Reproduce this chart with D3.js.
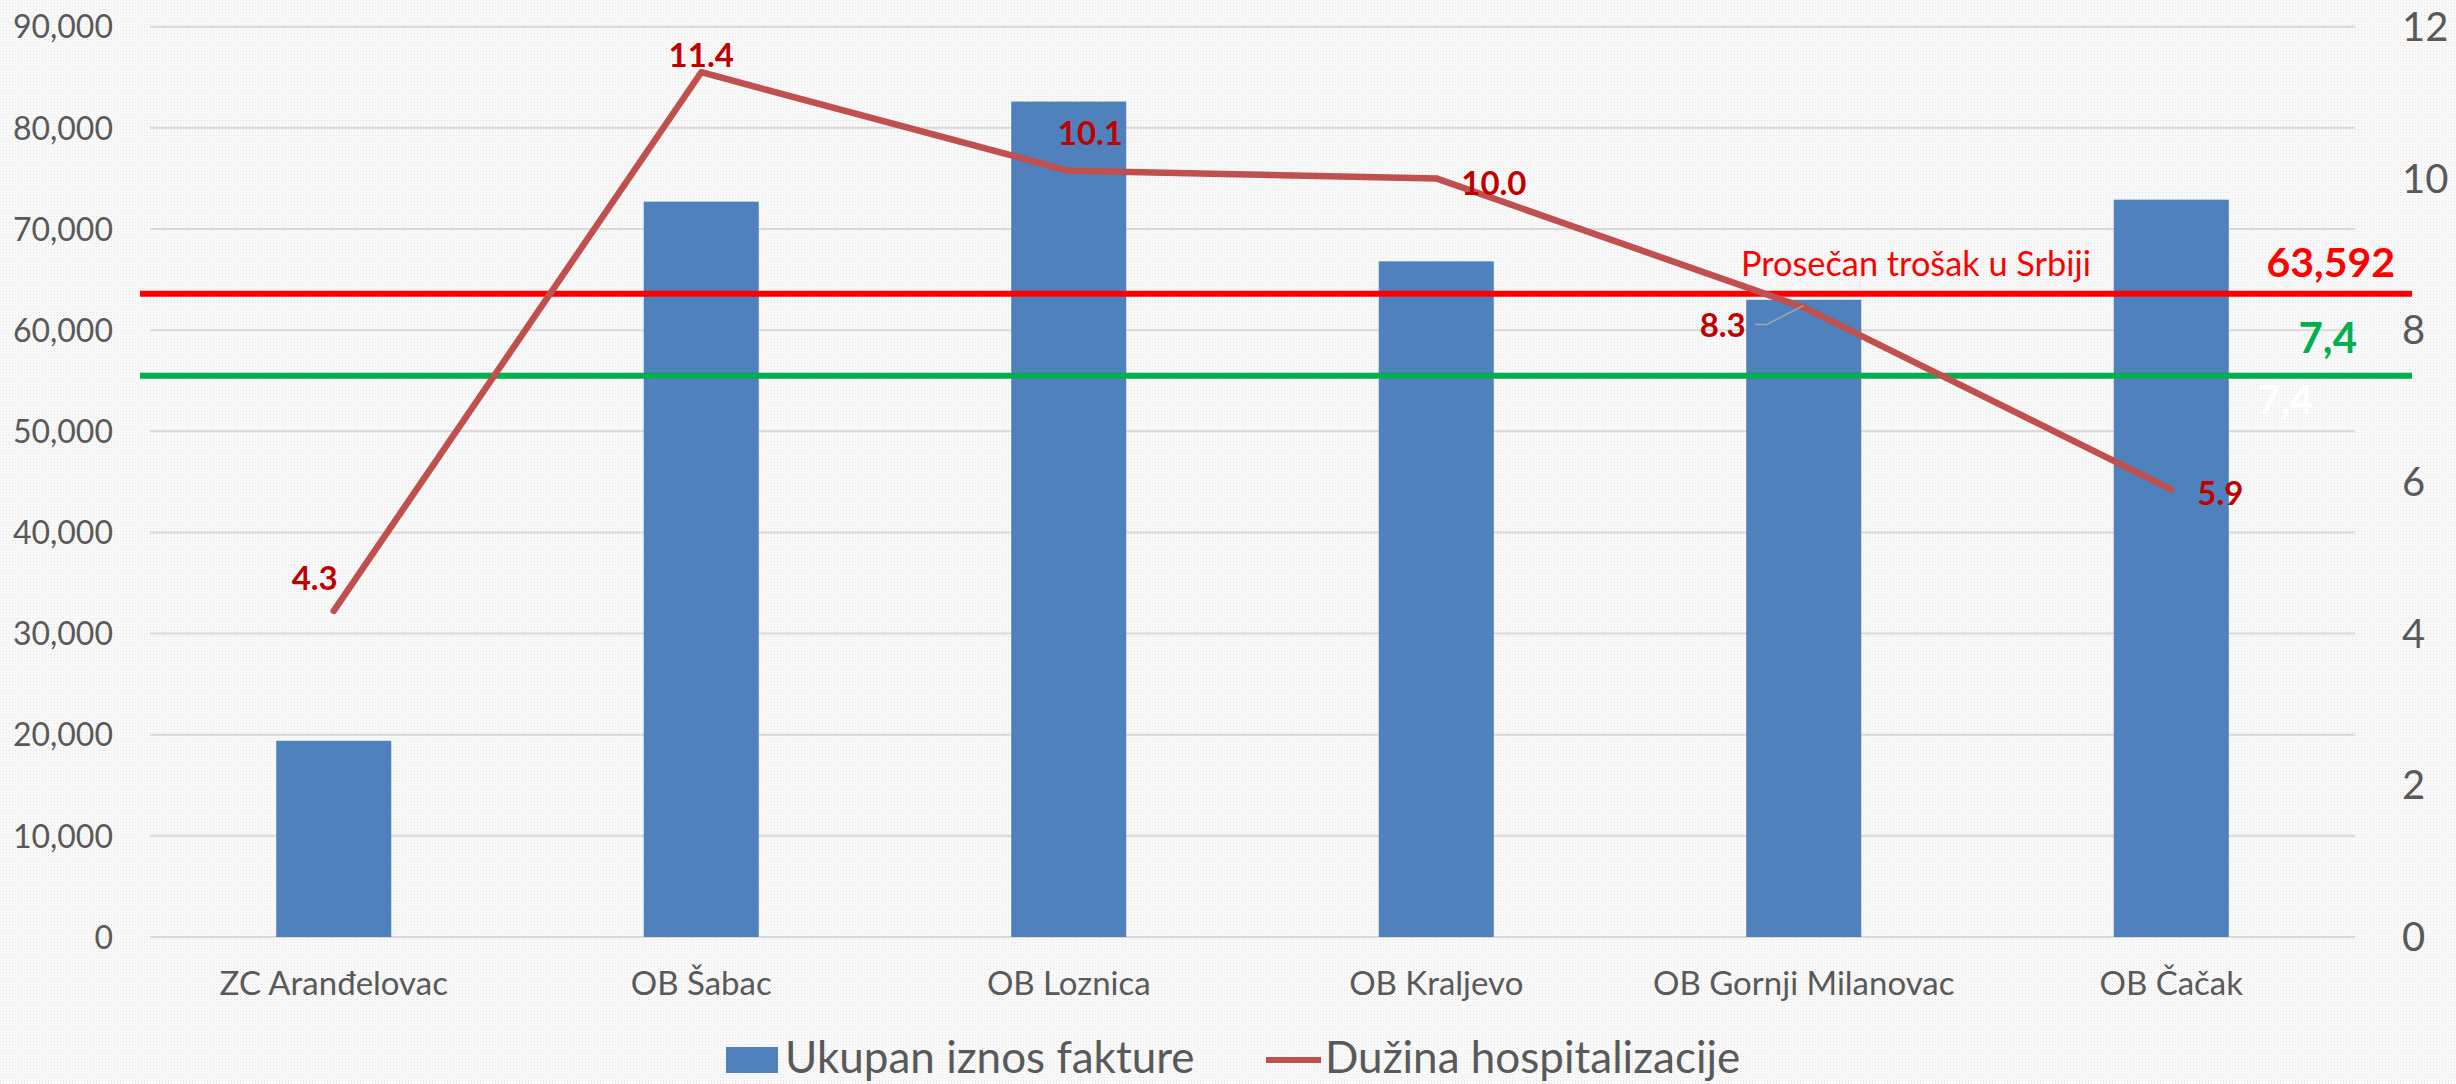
<!DOCTYPE html>
<html>
<head>
<meta charset="utf-8">
<script src="https://cdn.jsdelivr.net/npm/d3@7"></script>
<style>
  body { margin: 0; background: #fff; }
  text { font-family: Lato, "Open Sans", sans-serif; }
</style>
</head>
<body>
<div id="chart"></div>
<script>
// data
let categories = ['ZC Aranđelovac', 'OB Šabac', 'OB Loznica', 'OB Kraljevo', 'OB Gornji Milanovac', 'OB Čačak'];
let invoiceTotals = [19400, 72700, 82600, 66800, 63000, 72900];
let stayLength = [4.3, 11.4, 10.1, 10.0, 8.3, 5.9];
let leftTicks = [0, 10000, 20000, 30000, 40000, 50000, 60000, 70000, 80000, 90000];
let rightTicks = [0, 2, 4, 6, 8, 10, 12];
let avgCostSerbia = 63592;
let avgStaySerbia = 7.4;
let seriesNames = ['Ukupan iznos fakture', 'Dužina hospitalizacije'];

let width = 2456;
let height = 1084;
let plotLeft = 150, plotRight = 2355, plotTop = 26.7, plotBottom = 937;

let svg = d3.select('#chart')
  .append('svg')
  .attr('width', width)
  .attr('height', height);

// dotted background like the original
let defs = svg.append('defs');
let pat = defs.append('pattern')
  .attr('id', 'dots')
  .attr('width', 3)
  .attr('height', 3)
  .attr('patternUnits', 'userSpaceOnUse');
pat.append('rect').attr('width', 3).attr('height', 3).attr('fill', '#fbfbfb');
pat.append('rect').attr('width', 1).attr('height', 1).attr('fill', '#e2e2e2');
pat.append('rect').attr('x', 1.5).attr('y', 1.5).attr('width', 1).attr('height', 1).attr('fill', '#ececec');

svg.append('rect')
  .attr('width', width)
  .attr('height', height)
  .attr('fill', 'url(#dots)');

let x = d3.scaleBand()
  .domain(categories)
  .range([plotLeft, plotRight])
  .paddingInner(0.687)
  .paddingOuter(0.3435);

let yLeft = d3.scaleLinear().domain([0, 90000]).range([plotBottom, plotTop]);
let yRight = d3.scaleLinear().domain([0, 12]).range([plotBottom, plotTop]);

let cx = c => x(c) + x.bandwidth() / 2;

// gridlines
svg.append('g')
  .selectAll('line')
  .data(leftTicks)
  .enter()
  .append('line')
  .attr('x1', plotLeft)
  .attr('x2', plotRight)
  .attr('y1', d => yLeft(d))
  .attr('y2', d => yLeft(d))
  .attr('stroke', '#d9d9d9')
  .attr('stroke-width', 2);

// left axis
let leftAxis = svg.append('g')
  .attr('transform', 'translate(' + (plotLeft - 37) + ',0)')
  .call(d3.axisLeft(yLeft).tickValues(leftTicks).tickSize(0).tickPadding(0).tickFormat(d3.format(',')));
leftAxis.select('.domain').remove();
leftAxis.selectAll('text')
  .attr('fill', '#595959')
  .style('font-size', '32px')
  .attr('dy', '0.35em');

// right axis
let rightAxis = svg.append('g')
  .attr('transform', 'translate(2402,0)')
  .call(d3.axisRight(yRight).tickValues(rightTicks).tickSize(0).tickPadding(0));
rightAxis.select('.domain').remove();
rightAxis.selectAll('text')
  .attr('fill', '#595959')
  .style('font-size', '40px')
  .attr('dy', '0.34em');

// category labels
let bottomAxis = svg.append('g')
  .attr('transform', 'translate(0,' + plotBottom + ')')
  .call(d3.axisBottom(x).tickSize(0).tickPadding(0));
bottomAxis.select('.domain').remove();
bottomAxis.selectAll('text')
  .attr('fill', '#595959')
  .attr('dy', null)
  .attr('y', 58)
  .style('font-size', '33px');

// bars
svg.append('g')
  .selectAll('rect')
  .data(invoiceTotals)
  .enter()
  .append('rect')
  .attr('x', (d, i) => x(categories[i]))
  .attr('y', d => yLeft(d))
  .attr('width', x.bandwidth())
  .attr('height', d => yLeft(0) - yLeft(d))
  .attr('fill', '#4f81bd');

// average lines
svg.append('line')
  .attr('x1', 140).attr('x2', 2412)
  .attr('y1', yLeft(avgCostSerbia)).attr('y2', yLeft(avgCostSerbia))
  .attr('stroke', '#ff0000')
  .attr('stroke-width', 6);

svg.append('line')
  .attr('x1', 140).attr('x2', 2412)
  .attr('y1', yRight(avgStaySerbia)).attr('y2', yRight(avgStaySerbia))
  .attr('stroke', '#00b050')
  .attr('stroke-width', 6);

svg.append('text')
  .attr('x', 1741)
  .attr('y', yLeft(avgCostSerbia) - 18)
  .attr('fill', '#ff0000')
  .style('font-size', '35px')
  .attr('textLength', 350)
  .attr('lengthAdjust', 'spacingAndGlyphs')
  .text('Prosečan trošak u Srbiji');

svg.append('text')
  .attr('x', 2395)
  .attr('y', yLeft(avgCostSerbia) - 17)
  .attr('text-anchor', 'end')
  .attr('fill', '#ff0000')
  .style('font-size', '41px')
  .style('font-weight', 'bold')
  .text(d3.format(',')(avgCostSerbia));

svg.append('text')
  .attr('x', 2357)
  .attr('y', yRight(avgStaySerbia) - 23)
  .attr('text-anchor', 'end')
  .attr('fill', '#00b050')
  .style('font-size', '42px')
  .style('font-weight', 'bold')
  .text(String(avgStaySerbia).replace('.', ','));

// faint white duplicate label
svg.append('text')
  .attr('x', 2313)
  .attr('y', yRight(avgStaySerbia) + 38)
  .attr('text-anchor', 'end')
  .attr('fill', '#ffffff')
  .style('font-size', '40px')
  .style('font-weight', 'bold')
  .text(String(avgStaySerbia).replace('.', ','));

// line series
let line = d3.line()
  .x((d, i) => cx(categories[i]))
  .y(d => yRight(d));

svg.append('path')
  .datum(stayLength)
  .attr('d', line)
  .attr('fill', 'none')
  .attr('stroke', '#c0504d')
  .attr('stroke-width', 6.5)
  .attr('stroke-linejoin', 'round')
  .attr('stroke-linecap', 'round');

// data label placement (moved by hand in the original)
let labelPos = [
  { dx: 4, dy: -21, anchor: 'end' },
  { dx: 0, dy: -5, anchor: 'middle' },
  { dx: -11, dy: -26, anchor: 'start' },
  { dx: 25, dy: 17, anchor: 'start' },
  { dx: -58, dy: 30, anchor: 'end' },
  { dx: 26, dy: 16, anchor: 'start' }
];

// leader for the 8.3 label
let gm = 4;
let px = cx(categories[gm]), py = yRight(stayLength[gm]);
svg.append('polyline')
  .attr('points', [[px - 49, py + 17], [px - 37, py + 17], [px, py - 2]].map(p => p.join(',')).join(' '))
  .attr('fill', 'none')
  .attr('stroke', '#a6a6a6')
  .attr('stroke-width', 1.5);

svg.append('g')
  .selectAll('text')
  .data(stayLength)
  .enter()
  .append('text')
  .attr('x', (d, i) => cx(categories[i]) + labelPos[i].dx)
  .attr('y', (d, i) => yRight(d) + labelPos[i].dy)
  .attr('text-anchor', (d, i) => labelPos[i].anchor)
  .attr('fill', '#c00000')
  .style('font-size', '33px')
  .style('font-weight', 'bold')
  .text(d => d.toFixed(1));

// legend
let legend = svg.append('g');
legend.append('rect')
  .attr('x', 726).attr('y', 1047)
  .attr('width', 52).attr('height', 26)
  .attr('fill', '#4f81bd');
legend.append('text')
  .attr('x', 785).attr('y', 1073)
  .attr('fill', '#595959')
  .style('font-size', '44px')
  .text(seriesNames[0]);
legend.append('line')
  .attr('x1', 1266).attr('x2', 1321)
  .attr('y1', 1060).attr('y2', 1060)
  .attr('stroke', '#c0504d')
  .attr('stroke-width', 6);
legend.append('text')
  .attr('x', 1325).attr('y', 1073)
  .attr('fill', '#595959')
  .style('font-size', '44px')
  .text(seriesNames[1]);
</script>
</body>
</html>
